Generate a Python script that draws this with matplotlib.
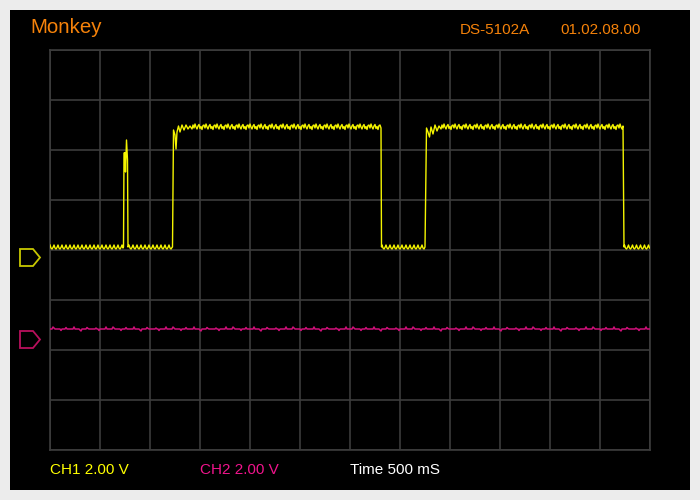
import numpy as np
import matplotlib
matplotlib.use("Agg")
import matplotlib.pyplot as plt
from matplotlib.patches import Rectangle, Polygon

plt.rcParams['font.family'] = ['Liberation Sans', 'DejaVu Sans']

# --- scope settings ---
time_per_div_ms = 500
volts_per_div = 2.0
n_xdiv, n_ydiv = 12, 8
step_ms = 10

# --- CH1 (yellow) levels and ripple ---
ch1_low = 0.12
ch1_high = 4.92
low_ripple = [0.08, -0.04, -0.08, -0.02]
high_ripple = [0.08, -0.04, 0.12, 0.0, -0.08, 0.04, 0.10, -0.06, 0.02, -0.10, 0.06]

# flat stretches: (start ms, end ms, level)
ch1_flats = [
    (0, 730, 'low'),
    (790, 1220, 'low'),
    (1430, 3310, 'high'),
    (3320, 3745, 'low'),
    (3920, 5735, 'high'),
    (5745, 6000, 'low'),
]
# transitions between the flat stretches: times (ms) and volts
ch1_spike_t = [735, 740, 750, 755, 765, 775, 780]
ch1_spike_v = [0.12, 3.88, 3.90, 3.12, 4.40, 3.60, 0.12]
ch1_rise1_t = [1225, 1235, 1250, 1260, 1270, 1285, 1300, 1320, 1340, 1360, 1380, 1400, 1420]
ch1_rise1_v = [0.12, 4.80, 4.60, 4.04, 4.72, 4.96, 4.72, 5.00, 4.80, 5.00, 4.84, 4.96, 4.84]
ch1_fall1_t = [3315]
ch1_fall1_v = [0.12]
ch1_rise2_t = [3750, 3765, 3780, 3795, 3810, 3830, 3850, 3870, 3890, 3910]
ch1_rise2_v = [0.12, 4.88, 4.72, 4.52, 4.92, 4.64, 5.00, 4.76, 4.96, 4.84]
ch1_fall2_t = [5740]
ch1_fall2_v = [0.12]

# --- CH2 (magenta): mostly flat, an occasional small blip ---
ch2_level = -3.16
ch2_ripple = [0, 0, 0, 0.08, 0.04, 0, 0, 0, 0, 0, 0, -0.06, 0, 0, 0, 0, 0.06, 0, 0, 0,
              0, 0, 0, 0, 0.08, 0, 0, 0, 0, 0, -0.04, -0.08, 0, 0, 0, 0, 0, 0.06, 0.02, 0,
              0, 0, 0, 0, 0, 0, 0.04, 0, 0, -0.06, 0, 0, 0, 0, 0, 0, 0.08, 0, 0, 0]

# marker (ground reference) levels in volts
ch1_marker = -0.30
ch2_marker = -3.58

header_left = "Monkey"
header_model = "DS-5102A"
header_version = "01.02.08.00"
footer = [("CH1 2.00 V", '#ffff00'), ("CH2 2.00 V", '#f0148c'), ("Time 500 mS", '#ffffff')]


def flat(start, end, level, ripple):
    t = np.arange(start, end + 1, step_ms)
    return t, level + np.resize(np.array(ripple, dtype=float), len(t))


levels = {'low': (ch1_low, low_ripple), 'high': (ch1_high, high_ripple)}
transitions = [(ch1_spike_t, ch1_spike_v), (ch1_rise1_t, ch1_rise1_v), (ch1_fall1_t, ch1_fall1_v),
               (ch1_rise2_t, ch1_rise2_v), (ch1_fall2_t, ch1_fall2_v), ([], [])]

ch1_t, ch1_v = [], []
for (s, e, lv), (tt, vv) in zip(ch1_flats, transitions):
    t, v = flat(s, e, *levels[lv])
    ch1_t += list(t) + tt
    ch1_v += list(v) + vv

ch2_t, ch2_v = flat(0, 6000, ch2_level, ch2_ripple)

# --- figure ---
W, H = 700, 500
fig = plt.figure(figsize=(7, 5), dpi=100, facecolor='#ececec')
fig.patches.append(Rectangle((10 / W, 10 / H), 680 / W, 480 / H, transform=fig.transFigure,
                             facecolor='black', edgecolor='none', zorder=-10))

ax = fig.add_axes([50 / W, 50 / H, 600 / W, 400 / H])
ax.set_zorder(5)
ax.set_facecolor('black')
xmax = n_xdiv * time_per_div_ms
ymax = n_ydiv / 2 * volts_per_div
ax.set_xlim(0, xmax)
ax.set_ylim(-ymax, ymax)
ax.set_xticks(np.arange(0, xmax + 1, time_per_div_ms))
ax.set_yticks(np.arange(-ymax, ymax + 0.1, volts_per_div))
ax.tick_params(length=0, labelbottom=False, labelleft=False)
ax.grid(True, color='#3c3c3c', linewidth=1.2)
for sp in ax.spines.values():
    sp.set_color('#3c3c3c')
    sp.set_linewidth(1.2)

ax.plot(ch2_t, ch2_v, color='#d0107a', linewidth=1.1, zorder=3)
ax.plot(ch1_t, ch1_v, color='#f4f400', linewidth=1.0, zorder=4)

# channel markers to the left of the grid
ms_per_px = time_per_div_ms / 50
v_per_px = volts_per_div / 50
for lvl, col in [(ch1_marker, '#c8c800'), (ch2_marker, '#b8105c')]:
    x0, x1, x2 = -30 * ms_per_px, -17 * ms_per_px, -10 * ms_per_px
    h = 8.5 * v_per_px
    pts = [(x0, lvl - h), (x0, lvl + h), (x1, lvl + h), (x2, lvl), (x1, lvl - h)]
    ax.add_patch(Polygon(pts, closed=True, fill=False, edgecolor=col, linewidth=1.3, clip_on=False))

orange = '#f5820a'
fig.text(30 / W, 1 - 33 / H, header_left, color=orange, fontsize=14.8, va='baseline')
fig.text(460 / W, 1 - 34.3 / H, header_model, color=orange, fontsize=11, va='baseline')
fig.text(560 / W, 1 - 34.3 / H, header_version, color=orange, fontsize=11, va='baseline')
for (txt, col), x in zip(footer, [50, 200, 350]):
    fig.text(x / W, 1 - 474.3 / H, txt, color=col, fontsize=11, va='baseline')

fig.savefig('out.png', dpi=100, facecolor=fig.get_facecolor())
